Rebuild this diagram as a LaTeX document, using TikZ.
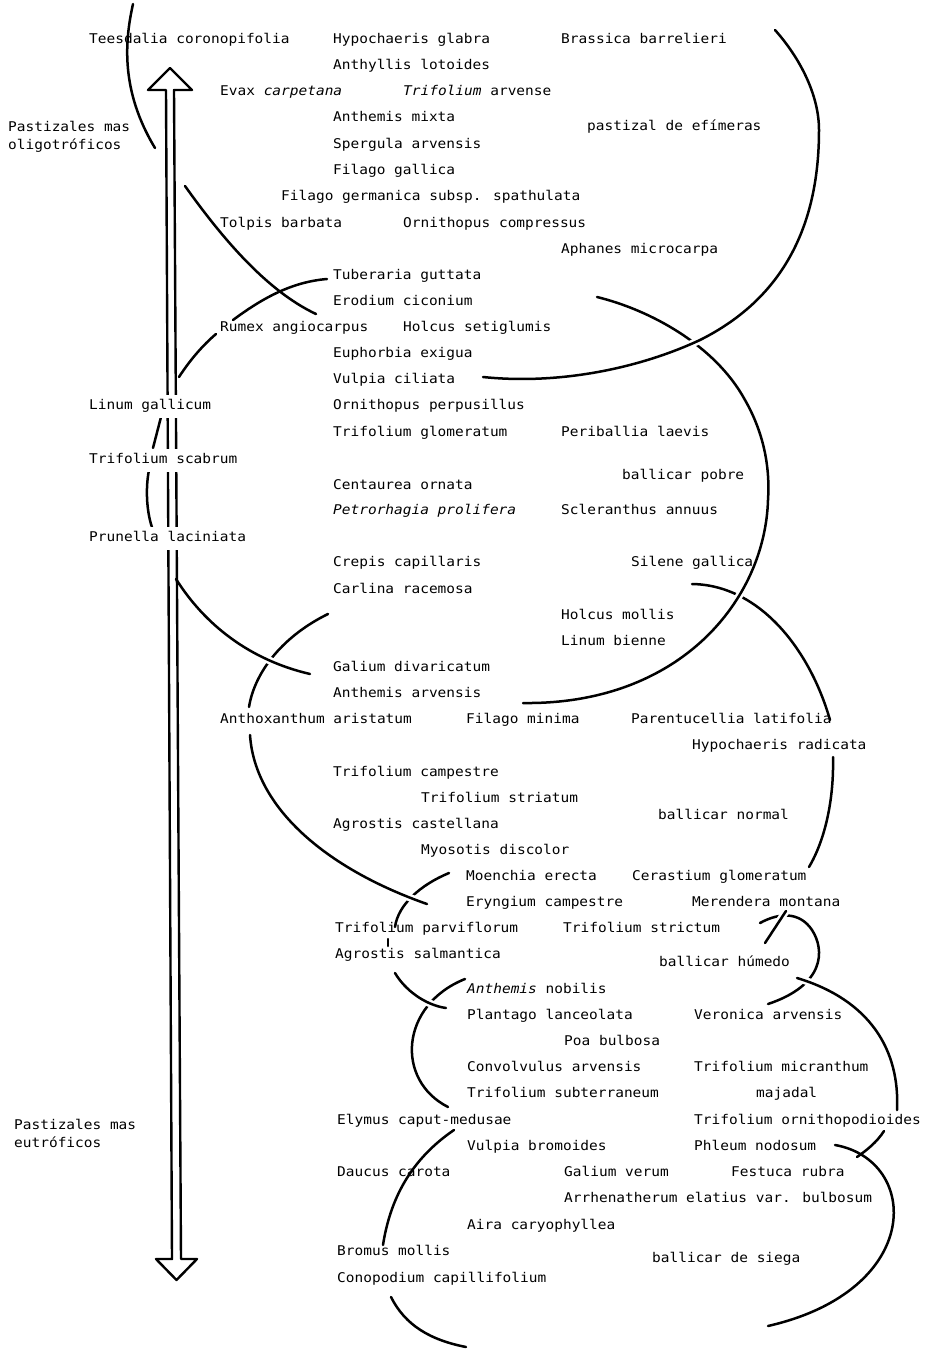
\documentclass[tikz,border=0pt]{standalone}
\usepackage{fontspec}
\newfontfamily\spfont[FakeStretch=1.08]{DejaVu Sans Mono}
\usetikzlibrary{positioning}

\tikzset{
  sp/.style={anchor=west, inner sep=1pt, text height=10pt, text depth=3pt,
    font=\spfont\fontsize{13.4pt}{16pt}\selectfont},
  mask/.style={fill=white, inner ysep=5pt},
  side/.style={anchor=north west, inner sep=1pt, align=left,
    font=\spfont\fontsize{13.4pt}{18pt}\selectfont},
  bound/.style={line width=2.5pt},
  cross/.style={preaction={draw=white, line width=7.5pt}}
}

\begin{document}
\begin{tikzpicture}[x=1pt,y=-1pt,line cap=round,line join=round]
\useasboundingbox (0,0) rectangle (925,1352);

% Left side boundaries
\draw[bound] (133,4) .. controls (125,40) and (120,90) .. (155,148);
\draw[bound] (185,186) .. controls (220,235) and (265,290) .. (316,314);
\draw[bound] (179,377) .. controls (190,360) and (203,345) .. (216,334);
\draw[bound] (233,320) .. controls (260,300) and (290,282) .. (327,279);
\draw[bound] (161,417) -- (153,448);
\draw[bound] (149,470) .. controls (145,490) and (147,515) .. (153,530);

% Anthoxanthum arc and crossings
\draw[bound] (328,614) .. controls (285,635) and (255,670) .. (249,707);
\draw[bound, cross] (176,579) .. controls (205,625) and (250,660) .. (310,674);
\draw[bound] (449,873) .. controls (420,885) and (398,905) .. (395,927);
\draw[bound, cross] (250,735) .. controls (255,810) and (330,870) .. (427,904);
\draw[bound] (388,939) -- (388,946);
\draw[bound] (465,979) .. controls (400,1005) and (395,1080) .. (448,1107);
\draw[bound, cross] (395,973) .. controls (405,990) and (425,1005) .. (446,1008);

% Right side: efimeras, pobre, normal
\draw[bound] (692,584) .. controls (760,585) and (810,650) .. (830,720);
\draw[bound] (833,757) .. controls (834,800) and (825,840) .. (809,867);
\draw[bound, cross] (597,297) .. controls (650,310) and (715,345) .. (745,400)
  .. controls (765,435) and (770,470) .. (768,500)
  .. controls (765,600) and (680,705) .. (523,703);
\draw[bound, cross] (775,30) .. controls (800,58) and (819,95) .. (819,130)
  .. controls (819,230) and (780,300) .. (700,340)
  .. controls (640,368) and (560,385) .. (483,377);

% Right side: humedo, majadal, siega
\draw[bound] (760,923) .. controls (780,912) and (800,912) .. (812,930)
  .. controls (825,950) and (825,985) .. (768,1004);
\draw[bound, cross] (786,911) -- (765,943);
\draw[bound, cross] (797,978) .. controls (870,1000) and (900,1050) .. (897,1110);
\draw[bound] (884,1131) .. controls (877,1142) and (867,1150) .. (857,1157);
\draw[bound] (835,1145) .. controls (920,1160) and (925,1290) .. (768,1326);
\draw[bound] (454,1130) .. controls (410,1160) and (390,1200) .. (383,1245);
\draw[bound] (391,1297) .. controls (405,1325) and (430,1340) .. (466,1347);

% Double arrow
\draw[line width=2.4pt] (166,90) -- (148,90) -- (170,68) -- (192,90) -- (174,90)
  -- (181,1259) -- (197,1259) -- (176.5,1280) -- (156,1259) -- (172,1259) -- cycle;

% Species
\foreach \n/\x/\y/\txt in {
  teesdalia/88/40/Teesdalia coronopifolia,
  hypglabra/332/40/Hypochaeris glabra,
  brassica/560/40/Brassica barrelieri,
  anthyllis/332/66/Anthyllis lotoides,
  evax/219/92/Evax \textit{carpetana},
  trifarv/402/92/\textit{Trifolium} arvense,
  anthmixta/332/118/Anthemis mixta,
  efimeras/586/127/pastizal de efímeras,
  spergula/332/145/Spergula arvensis,
  filgallica/332/171/Filago gallica,
  filgerm/280/197/Filago germanica subsp. spathulata,
  tolpis/219/224/Tolpis barbata,
  ornicomp/402/224/Ornithopus compressus,
  aphanes/560/250/Aphanes microcarpa,
  tuberaria/332/276/Tuberaria guttata,
  erodium/332/302/Erodium ciconium,
  rumex/219/328/Rumex angiocarpus,
  holcset/402/328/Holcus setiglumis,
  euphorbia/332/354/Euphorbia exigua,
  vulpcil/332/380/Vulpia ciliata,
  ornperp/332/406/Ornithopus perpusillus,
  trifglom/332/433/Trifolium glomeratum,
  periballia/560/433/Periballia laevis,
  pobre/621/476/ballicar pobre,
  centaurea/332/486/Centaurea ornata,
  petrorhagia/332/511/\textit{Petrorhagia prolifera},
  scleranthus/560/511/Scleranthus annuus,
  crepis/332/563/Crepis capillaris,
  silene/630/563/Silene gallica,
  carlina/332/590/Carlina racemosa,
  holcmol/560/616/Holcus mollis,
  linbien/560/642/Linum bienne,
  galdiv/332/668/Galium divaricatum,
  antharv/332/694/Anthemis arvensis,
  anthox/219/720/Anthoxanthum aristatum,
  filmin/465/720/Filago minima,
  parent/630/720/Parentucellia latifolia,
  hyprad/691/746/Hypochaeris radicata,
  trifcamp/332/773/Trifolium campestre,
  trifstri/420/799/Trifolium striatum,
  normal/657/816/ballicar normal,
  agrcast/332/825/Agrostis castellana,
  myosotis/420/851/Myosotis discolor,
  moenchia/465/877/Moenchia erecta,
  cerastium/631/877/Cerastium glomeratum,
  eryngium/465/903/Eryngium campestre,
  merendera/691/903/Merendera montana,
  trifparv/334/929/Trifolium parviflorum,
  trifstric/562/929/Trifolium strictum,
  agrsalm/334/955/Agrostis salmantica,
  humedo/658/963/ballicar húmedo,
  anthnob/466/990/\textit{Anthemis} nobilis,
  plantago/466/1016/Plantago lanceolata,
  veronica/693/1016/Veronica arvensis,
  poa/563/1042/Poa bulbosa,
  convolv/466/1068/Convolvulus arvensis,
  trifmicr/693/1068/Trifolium micranthum,
  trifsubt/466/1094/Trifolium subterraneum,
  majadal/755/1094/majadal,
  elymus/336/1121/Elymus caput-medusae,
  triforn/693/1121/Trifolium ornithopodioides,
  vulpbrom/466/1147/Vulpia bromoides,
  phleum/693/1147/Phleum nodosum,
  daucus/336/1173/Daucus carota,
  galver/563/1173/Galium verum,
  festuca/730/1173/Festuca rubra,
  arrhen/563/1199/Arrhenatherum elatius var. bulbosum,
  aira/466/1226/Aira caryophyllea,
  bromus/336/1252/Bromus mollis,
  siega/651/1259/ballicar de siega,
  conopodium/336/1279/Conopodium capillifolium
}
  \node[sp] (\n) at (\x,\y) {\txt};

% Labels on the arrow
\node[sp, mask] (linum) at (88,406) {Linum gallicum};
\node[sp, mask] (trifscab) at (88,460) {Trifolium scabrum};
\node[sp, mask] (prunella) at (88,538) {Prunella laciniata};

\node[side] (oligo) at (7,120) {Pastizales mas\\oligotróficos};
\node[side] (eutro) at (13,1118) {Pastizales mas\\eutróficos};

\end{tikzpicture}
\end{document}
